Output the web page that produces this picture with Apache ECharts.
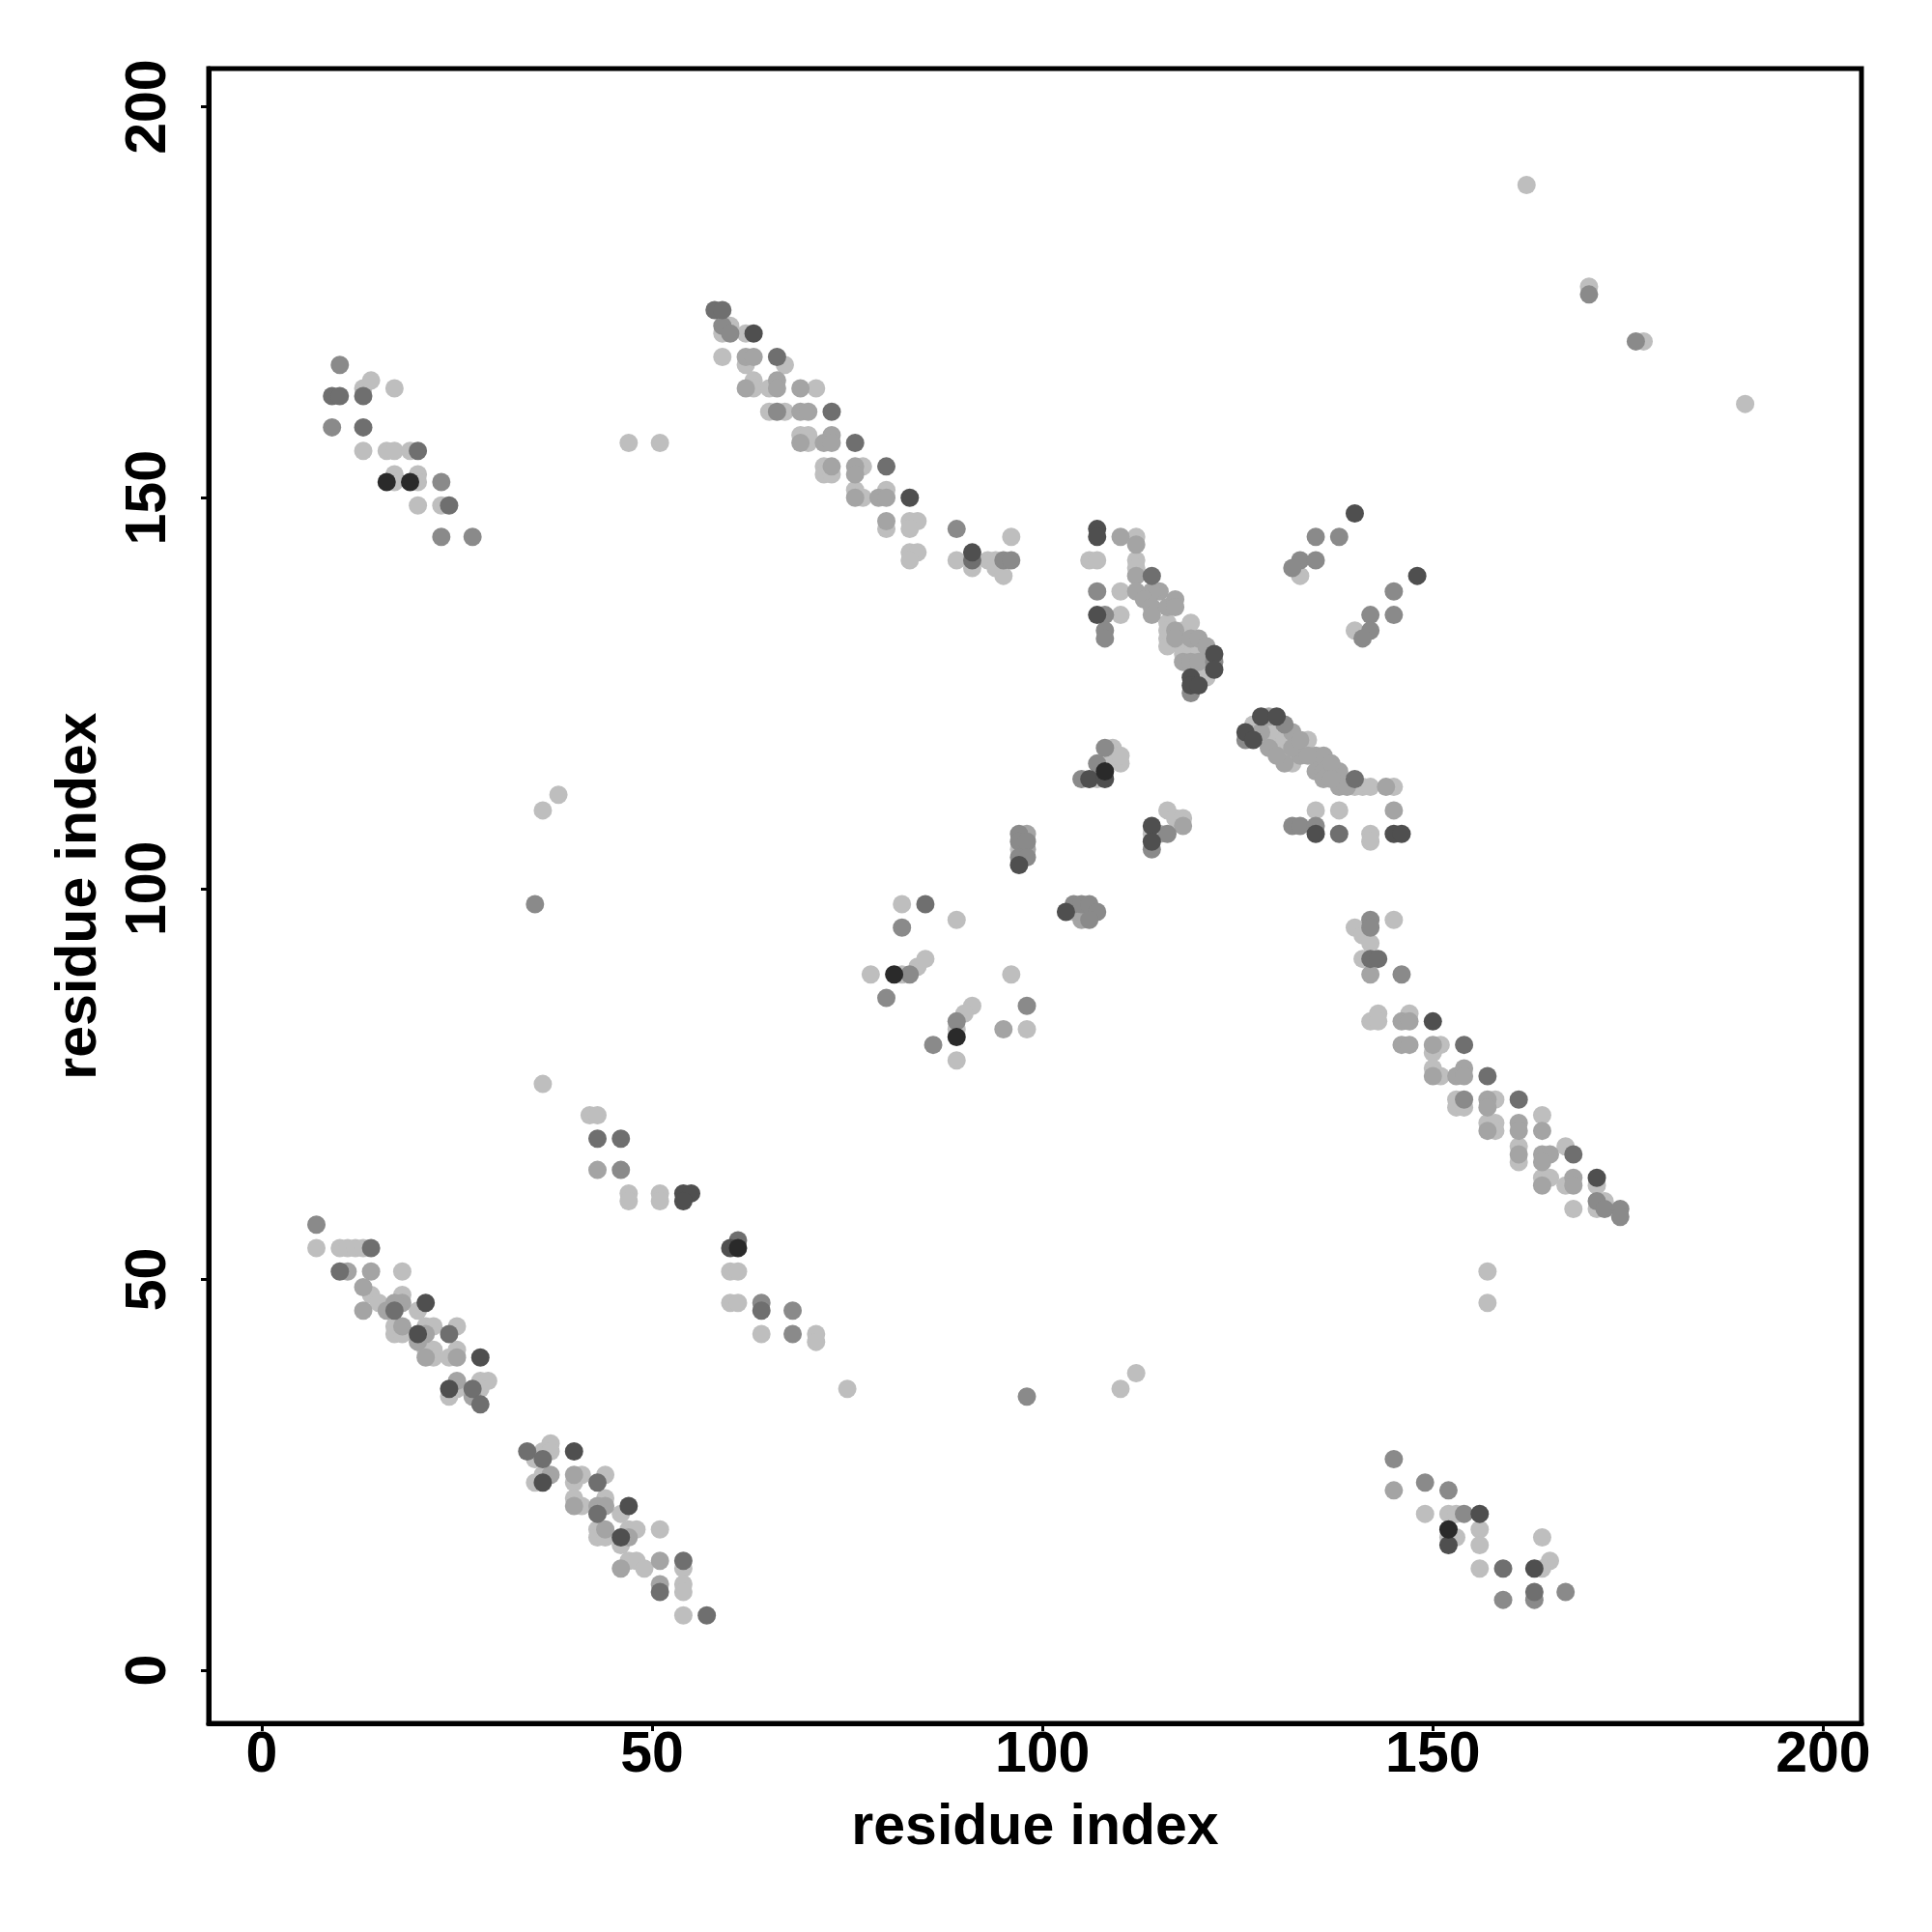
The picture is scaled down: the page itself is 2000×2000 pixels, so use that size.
<!DOCTYPE html>
<html>
<head>
<meta charset="utf-8">
<script src="https://cdn.jsdelivr.net/npm/echarts@6/dist/echarts.min.js"></script>
<style>html,body{margin:0;padding:0;background:#fff}#c{width:2000px;height:2000px}</style>
</head>
<body>
<div id="c"></div>
<script>
// Contact points [residue i, residue j], grouped by grey level
const shade1 = [[16,152],[19,152],[81,89],[89,81],[108,115],[61,54],[152,18]];
const shade2 = [[63,171],[83,150],[91,143],[107,146],[107,145],[107,135],[122,130],[122,128],[119,127],[119,126],[120,126],
  [140,148],[148,140],[128,122],[130,122],[126,120],[127,119],[135,107],[145,107],[146,107],[106,114],[108,114],[114,108],[114,106],
  [97,103],[103,97],[150,83],[171,63],[21,47],[20,43],[28,40],[24,36],[40,28],[36,24],[47,21],[46,17],[54,61],[55,61],[54,60],[60,54],
  [152,16],[156,20],[163,13]];
const shade3 = [[9,163],[10,163],[13,163],[13,159],[20,156],[24,149],[58,174],[59,174],[66,168],[73,161],[76,157],[80,154],[91,142],
  [114,140],[140,114],[138,107],[85,98],[142,91],[143,91],[154,80],[157,76],[161,73],[168,66],[14,54],[10,51],[17,46],[24,43],[27,36],[28,34],
  [34,28],[36,27],[43,24],[43,20],[54,14],[51,10],[57,7],[43,68],[46,68],[61,55],[64,46],[159,13],[163,10]];
const shade4 = [[10,167],[9,159],[23,152],[23,145],[27,145],[59,172],[60,171],[66,161],[89,146],[95,142],[96,142],
  [107,138],[108,135],[108,133],[108,132],[122,129],[119,125],[135,145],[138,145],[133,142],[135,142],[132,141],[145,138],[145,135],[142,135],[142,133],[141,132],
  [126,119],[131,121],[132,108],[133,108],[135,108],[108,118],[107,116],[105,114],[114,105],[116,107],
  [97,107],[97,106],[98,106],[97,104],[98,104],[104,98],[105,98],[106,98],[107,97],[106,96],
  [82,95],[83,89],[80,86],[89,83],[86,80],[98,85],[142,96],[142,95],[146,89],[154,73],[171,60],[172,59],[174,59],[174,58],
  [7,57],[46,64],[64,47],[68,46],[68,43],[35,98],[98,35],[145,27],[149,24],[152,23],[154,20],[159,9],[163,9],[167,10],[170,176],[176,170]];
const shade5 = [[62,168],[63,168],[62,164],[66,165],[66,164],[69,164],[69,161],[70,161],[69,157],[72,157],[73,158],[73,157],[73,154],
  [76,154],[76,153],[76,150],[79,150],[80,150],[80,147],[110,145],[112,144],[112,140],[112,138],[115,138],[114,138],[113,137],[114,136],[114,135],
  [116,136],[117,137],[117,136],[117,133],[117,132],[118,129],[119,132],[119,129],[120,132],[120,129],[121,131],[118,108],[115,107],
  [129,122],[128,120],[129,118],[132,120],[131,116],[133,117],[135,117],[136,117],[135,115],[136,115],[138,115],[138,113],[139,113],[144,113],[145,110],
  [132,118],[133,119],[134,117],[137,116],[136,114],[137,114],[130,117],[98,107],[98,105],[105,96],[105,97],[95,82],
  [142,89],[146,83],[147,83],[146,80],[147,80],[150,80],[150,76],[153,76],[154,77],[154,76],[157,73],[157,72],[157,69],[161,70],[161,69],[164,69],
  [161,66],[164,66],[165,66],[164,65],[164,62],[168,63],[168,62],
  [11,51],[14,51],[13,49],[13,46],[16,46],[18,47],[17,47],[18,44],[21,43],[20,42],[21,40],[25,40],[25,37],[27,35],
  [37,25],[40,25],[40,21],[43,21],[44,21],[44,18],[47,17],[46,13],[51,14],[51,11],[43,64],[145,23]];
const shade6 = [[13,164],[14,165],[17,164],[13,156],[16,156],[17,156],[19,156],[17,153],[17,152],[20,153],[20,152],[20,149],[23,149],
  [60,172],[59,171],[62,171],[59,168],[62,167],[67,167],[63,165],[63,164],[65,164],[71,164],[65,161],[67,161],[69,158],[70,158],[70,157],
  [72,154],[72,153],[73,153],[77,154],[76,151],[77,150],[80,151],[80,146],[83,147],[84,147],[83,146],[96,145],[83,143],[84,143],[83,142],
  [89,142],[91,141],[93,142],[94,142],[94,141],[95,140],
  [112,145],[106,142],[107,142],[112,142],[112,141],[110,138],[110,135],[116,134],[116,133],[116,132],[116,131],[118,133],[118,132],[118,131],[118,130],
  [119,134],[119,131],[119,130],[120,131],[120,130],[121,130],[121,129],[121,128],[121,127],[133,140],[140,133],
  [127,121],[130,119],[134,119],[132,116],[140,113],[141,113],[142,113],[145,113],[135,110],[138,110],[142,107],[142,106],[129,120],[130,118],[131,119],
  [109,118],[110,116],[107,114],[109,117],[110,117],[114,107],[116,110],[117,109],[118,109],[97,105],[104,97],
  [82,98],[89,96],[78,89],[82,89],[84,90],[85,91],[96,89],[91,85],[90,84],[89,82],[89,78],[98,82],
  [140,95],[145,96],[141,94],[142,93],[141,91],[142,83],[143,84],[143,83],[147,84],[151,80],[150,79],[150,77],[151,76],
  [153,73],[153,72],[154,72],[158,73],[157,70],[158,70],[158,69],[164,71],[161,67],[161,65],[167,67],[164,63],[165,63],[167,62],[171,62],
  [168,59],[171,59],[172,60],
  [7,54],[10,54],[11,54],[12,54],[13,54],[18,51],[14,48],[15,47],[18,48],[20,46],[17,44],[17,43],[18,43],[21,44],[22,44],[25,44],
  [21,41],[22,41],[22,40],[24,40],[25,41],[24,35],[25,36],[28,37],[29,37],[28,36],
  [35,27],[36,28],[37,29],[37,28],[35,24],[36,25],[41,25],[40,24],[44,25],[40,22],[41,21],[44,22],[46,20],[43,18],[43,17],[44,17],[47,18],[48,18],
  [46,16],[51,18],[47,14],[48,14],[49,13],[54,13],[54,11],[54,10],[54,7],
  [36,75],[42,71],[43,71],[47,61],[47,60],[51,61],[51,60],[60,51],[61,51],[60,47],[61,47],[64,43],[71,43],[71,42],[75,36],
  [149,20],[152,20],[153,20],[153,17],[152,17],[156,18],[156,16],[156,13],[164,17],[165,14],[164,13],
  [36,110],[38,112],[47,157],[51,157],[110,36],[112,38],[157,51],[157,47],[162,190],[170,177],[177,170],[190,162]];
const tickValues = [0, 50, 100, 150, 200];
const axisTitle = 'residue index';

const groups = [
  {data: shade6, color: '#bebebe'},
  {data: shade5, color: '#a4a4a4'},
  {data: shade4, color: '#8a8a8a'},
  {data: shade3, color: '#6f6f6f'},
  {data: shade2, color: '#4f4f4f'},
  {data: shade1, color: '#2a2a2a'}
];

const font = {fontFamily: 'Liberation Sans, Arial, sans-serif', fontWeight: 'bold', fontSize: 59, color: '#000'};

function axis(isY) {
  return {
    type: 'value', min: -6.8, max: 204.9,
    name: axisTitle, nameLocation: 'middle', nameGap: isY ? 104 : 79,
    nameTextStyle: Object.assign({}, font),
    axisLine: {show: true, onZero: false, lineStyle: {color: '#000', width: 5}},
    axisTick: {show: true, length: 8, lineStyle: {color: '#000', width: 3}, customValues: tickValues},
    axisLabel: Object.assign({customValues: tickValues, margin: isY ? 32 : 4, rotate: isY ? 90 : 0}, font),
    splitLine: {show: false}
  };
}

const chart = echarts.init(document.getElementById('c'), null, {renderer: 'canvas'});
chart.setOption({
  animation: false,
  backgroundColor: '#fff',
  grid: {left: 216, right: 73, top: 71, bottom: 216, show: true, borderColor: '#000', borderWidth: 5, backgroundColor: 'transparent'},
  xAxis: axis(false),
  yAxis: axis(true),
  series: groups.map(g => ({
    type: 'scatter', data: g.data, symbol: 'circle', symbolSize: 19,
    itemStyle: {color: g.color, opacity: 1}, emphasis: {disabled: true}
  }))
});
</script>
</body>
</html>
